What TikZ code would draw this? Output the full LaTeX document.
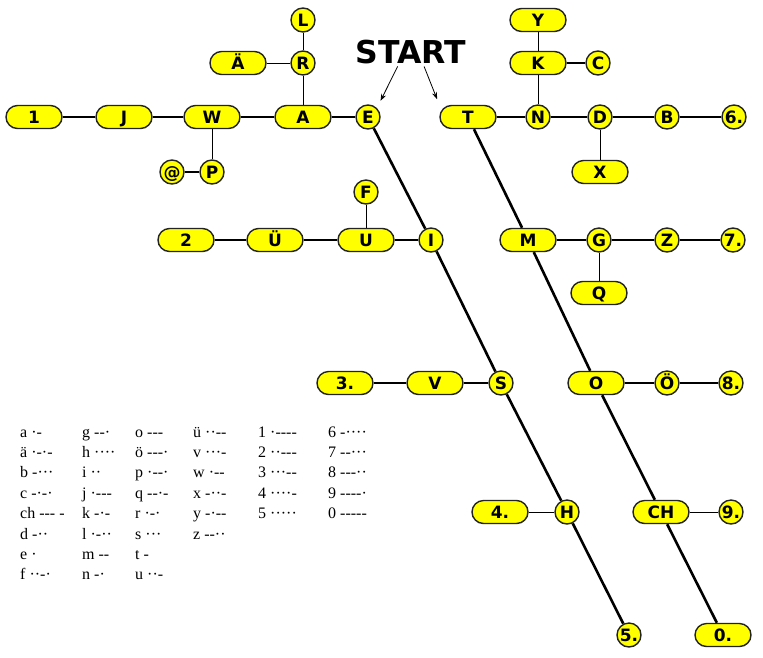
\documentclass[tikz,border=0pt]{standalone}
\usepackage{fontspec}
\setmainfont{DejaVu Sans}
\newfontfamily\legfont[Ligatures=TeXOff]{Liberation Serif}
\usetikzlibrary{positioning,arrows.meta}
\definecolor{mgelb}{RGB}{255,255,0}
\definecolor{mrand}{RGB}{35,35,35}
\tikzset{mbase/.style={draw=mrand, line width=1.4pt, fill=mgelb, inner sep=0pt, text height=12.2pt, text depth=0pt, font=\fontsize{17}{17}\selectfont\bfseries}}
\tikzset{mpill/.style={mbase, rounded corners=11.5pt, minimum width=56pt, minimum height=23pt}}
\tikzset{mdot/.style={mbase, circle, minimum size=24pt}}
\tikzset{lnk/.style={draw, line width=1.7pt}}
\tikzset{lnk0/.style={draw, line width=0.9pt}}
\tikzset{diag/.style={draw, line width=2.6pt}}
\tikzset{arr/.style={draw, -{Stealth[length=7pt, width=5pt]}, line width=0.8pt, shorten <=3pt}}
\tikzset{legend/.style={anchor=base west, inner sep=0pt, font=\legfont\fontsize{16}{16}\selectfont}}

\begin{document}
\begin{tikzpicture}[x=1pt, y=-1pt]
			\useasboundingbox (0,0) rectangle (763,657);
			% E-Zweig
			\node[mpill] (n1) at (34,117) {1};
			\node[mpill] (J) at (124,117) {J};
			\node[mpill] (W) at (212,117) {W};
			\node[mpill] (A) at (303,117) {A};
			\node[mdot] (E) at (368,117) {E};
			\node[mpill] (Ae) at (238,63) {Ä};
			\node[mdot] (R) at (303,63) {R};
			\node[mdot] (L) at (303,20) {L};
			\node[mdot] (at) at (172,172) {@};
			\node[mdot] (P) at (212,172) {P};
			\node[mdot] (F) at (366,192) {F};
			\node[mpill] (n2) at (186,240) {2};
			\node[mpill] (Ue) at (275,240) {Ü};
			\node[mpill] (U) at (366,240) {U};
			\node[mdot] (I) at (431,240) {I};
			\node[mpill] (n3) at (345,383) {3.};
			\node[mpill] (V) at (435,383) {V};
			\node[mdot] (S) at (501,383) {S};
			\node[mpill] (n4) at (500,512) {4.};
			\node[mdot] (H) at (567,512) {H};
			\node[mdot] (n5) at (629,635) {5.};
			% T-Zweig
			\node[mpill] (T) at (468,117) {T};
			\node[mdot] (N) at (538,117) {N};
			\node[mdot] (D) at (600,117) {D};
			\node[mdot] (B) at (667,117) {B};
			\node[mdot] (n6) at (734,117) {6.};
			\node[mpill] (K) at (538,63) {K};
			\node[mdot] (C) at (598,63) {C};
			\node[mpill] (Y) at (538,20) {Y};
			\node[mpill] (X) at (600,172) {X};
			\node[mpill] (M) at (528,240) {M};
			\node[mdot] (G) at (599,240) {G};
			\node[mdot] (Z) at (667,240) {Z};
			\node[mdot] (n7) at (733,240) {7.};
			\node[mpill] (Q) at (599,293) {Q};
			\node[mpill] (O) at (596,383) {O};
			\node[mdot] (Oe) at (667,383) {Ö};
			\node[mdot] (n8) at (731,383) {8.};
			\node[mpill] (CH) at (661,512) {CH};
			\node[mdot] (n9) at (731,512) {9.};
			\node[mpill] (n0) at (723,635) {0.};
			%
			\draw[lnk] (n1) -- (J) -- (W) -- (A) -- (E);
			\draw[lnk] (T) -- (N) -- (D) -- (B) -- (n6);
			\draw[lnk] (at) -- (P);
			\draw[lnk] (K) -- (C);
			\draw[lnk] (n2) -- (Ue) -- (U) -- (I);
			\draw[lnk] (M) -- (G) -- (Z) -- (n7);
			\draw[lnk] (n3) -- (V) -- (S);
			\draw[lnk] (O) -- (Oe) -- (n8);
			\draw[lnk0] (Ae) -- (R);
			\draw[lnk0] (L) -- (R) -- (A);
			\draw[lnk0] (W) -- (P);
			\draw[lnk0] (Y) -- (K) -- (N);
			\draw[lnk0] (D) -- (X);
			\draw[lnk0] (F) -- (U);
			\draw[lnk0] (G) -- (Q);
			\draw[lnk0] (n4) -- (H);
			\draw[lnk0] (CH) -- (n9);
			\draw[diag] (E) -- (I) -- (S) -- (H) -- (n5);
			\draw[diag] (T) -- (M) -- (O) -- (CH) -- (n0);
			%
			\node[inner sep=0pt, text height=23pt, text depth=0pt, font=\fontsize{31.5}{31.5}\selectfont\bfseries] (start) at (411,52) {START};
			\draw[arr, shorten >=8pt] ([xshift=-12pt]start.south) -- (E.north east);
			\draw[arr, shorten >=6pt] ([xshift=12pt]start.south) -- (T.north west);
			% Legende
			\foreach \txt [count=\i] in {a ·-, ä ·-·-, b -···, c -·-·, ch --- -, d -··, e ·, f ··-·}
				\node[legend] (la-\i) at (20,416.6+20.4*\i) {\txt};
			\foreach \txt [count=\i] in {g --·, h ····, i ··, j ·---, k -·-, l ·-··, m --, n -·}
				\node[legend] (lb-\i) at (82,416.6+20.4*\i) {\txt};
			\foreach \txt [count=\i] in {o ---, ö ---·, p ·--·, q --·-, r ·-·, s ···, t -, u ··-}
				\node[legend] (lc-\i) at (135,416.6+20.4*\i) {\txt};
			\foreach \txt [count=\i] in {ü ··--, v ···-, w ·--, x -··-, y -·--, z --··}
				\node[legend] (ld-\i) at (193,416.6+20.4*\i) {\txt};
			\foreach \txt [count=\i] in {1 ·----, 2 ··---, 3 ···--, 4 ····-, 5 ·····}
				\node[legend] (le-\i) at (258,416.6+20.4*\i) {\txt};
			\foreach \txt [count=\i] in {6 -····, 7 --···, 8 ---··, 9 ----·, 0 -----}
				\node[legend] (lf-\i) at (328,416.6+20.4*\i) {\txt};
		\end{tikzpicture}
\end{document}
